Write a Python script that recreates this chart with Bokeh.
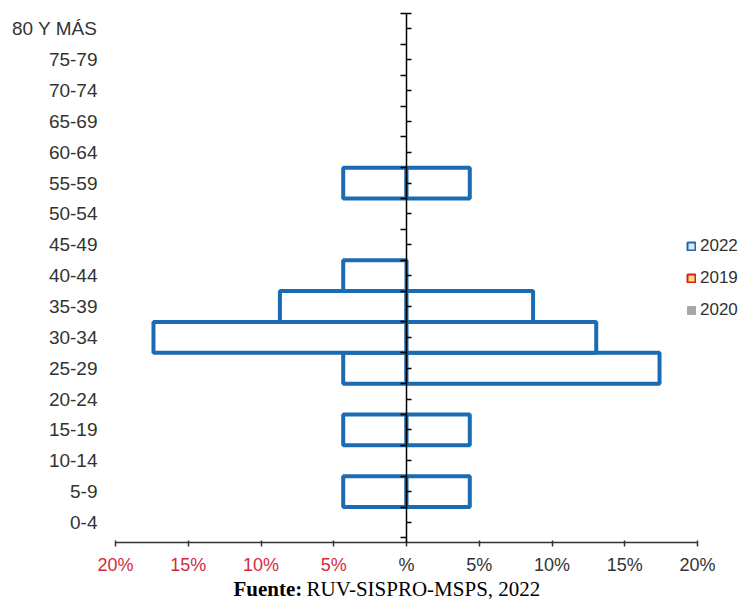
from bokeh.plotting import figure
from bokeh.models import (Range1d, FixedTicker, ColumnDataSource, Legend, LegendItem,
                          LinearAxis, Label)
from bokeh.embed import file_html
from bokeh.resources import INLINE

# ---- data ----
categories = ["0-4", "5-9", "10-14", "15-19", "20-24", "25-29", "30-34", "35-39",
              "40-44", "45-49", "50-54", "55-59", "60-64", "65-69", "70-74", "75-79",
              "80 Y MÁS"]
left_pct = [0, 4.35, 0, 4.35, 0, 4.35, 17.39, 8.70, 4.35, 0, 0, 4.35, 0, 0, 0, 0, 0]
right_pct = [0, 4.35, 0, 4.35, 0, 17.39, 13.04, 8.70, 0, 0, 0, 4.35, 0, 0, 0, 0, 0]
legend_years = ["2022", "2019", "2020"]
x_ticks = [-20, -15, -10, -5, 0, 5, 10, 15, 20]
x_tick_labels = ["20%", "15%", "10%", "5%", "%", "5%", "10%", "15%", "20%"]
source_text_bold = "Fuente:"
source_text = "RUV-SISPRO-MSPS, 2022"

BLUE = "#1b6bb3"
RED = "#d42b3a"
DARK = "#333333"
FONT = "Liberation Sans"
SERIF = "Liberation Serif"

W, H = 747, 599
n = len(categories)
ypos = list(range(n))
y_axis_at, y_top = -0.65, n - 0.5             # vertical extent of the chart axes
py_per_unit = 529 / (y_top - y_axis_at)       # chart area 13..542 px
y_start = y_axis_at - (H - 542) / py_per_unit
y_end = y_top + 13 / py_per_unit
x_min, x_max = x_ticks[0], x_ticks[-1]
px_per_unit = 582 / (x_max - x_min)           # 115..697 px holds -20..20
x_start = x_min - 115 / px_per_unit
x_end = x_max + (W - 697) / px_per_unit

p = figure(width=W, height=H, output_backend="svg", toolbar_location=None,
           x_range=Range1d(x_start, x_end), y_range=Range1d(y_start, y_end),
           x_axis_type=None, y_axis_type=None, min_border=0)
p.outline_line_color = None
p.xgrid.grid_line_color = None
p.ygrid.grid_line_color = None
p.background_fill_color = "white"
p.border_fill_color = "white"

# bars (only non-zero values)
lsrc = ColumnDataSource(dict(
    y=[ypos[i] for i in range(n) if left_pct[i] > 0],
    left=[-left_pct[i] for i in range(n) if left_pct[i] > 0],
    right=[0 for i in range(n) if left_pct[i] > 0]))
rsrc = ColumnDataSource(dict(
    y=[ypos[i] for i in range(n) if right_pct[i] > 0],
    left=[0 for i in range(n) if right_pct[i] > 0],
    right=[right_pct[i] for i in range(n) if right_pct[i] > 0]))
p.hbar(y="y", left="left", right="right", height=1.0, source=lsrc,
       fill_color="white", line_color=BLUE, line_width=4)
p.hbar(y="y", left="left", right="right", height=1.0, source=rsrc,
       fill_color="white", line_color=BLUE, line_width=4)

# category axis (labels only), at the left end of the x axis
yax = LinearAxis(fixed_location=x_min, ticker=FixedTicker(ticks=ypos),
                 major_label_overrides={i: c for i, c in zip(ypos, categories)},
                 axis_line_color=None, major_tick_line_color=None,
                 minor_tick_line_color=None, major_tick_in=0, major_tick_out=0,
                 major_label_standoff=18, major_label_text_font=FONT,
                 major_label_text_font_size="19px", major_label_text_color=DARK)
p.add_layout(yax, "left")

# central vertical axis at x = 0
bounds = [i - 0.5 for i in range(n + 1)]
cax = LinearAxis(fixed_location=0, bounds=(y_axis_at, y_top),
                 ticker=FixedTicker(ticks=ypos + [y_top], minor_ticks=bounds),
                 major_label_text_alpha=0, major_label_text_font_size="1px",
                 axis_line_color="black", axis_line_width=1.5,
                 major_tick_line_color="black", major_tick_line_width=1.3,
                 major_tick_in=5, major_tick_out=0,
                 minor_tick_line_color="black", minor_tick_line_width=1.3,
                 minor_tick_in=0, minor_tick_out=6)
p.add_layout(cax, "left")

# x axis (line, ticks, black labels on the right side)
xax = LinearAxis(fixed_location=y_axis_at, bounds=(x_min, x_max),
                 ticker=FixedTicker(ticks=x_ticks),
                 major_label_overrides={t: (lab if t >= 0 else "") for t, lab in zip(x_ticks, x_tick_labels)},
                 axis_line_color=DARK, axis_line_width=1.5,
                 major_tick_line_color=DARK, major_tick_line_width=1.5,
                 major_tick_in=2, major_tick_out=4, minor_tick_line_color=None,
                 major_label_standoff=8, major_label_text_font=FONT,
                 major_label_text_font_size="18px", major_label_text_color=DARK)
p.add_layout(xax, "below")

# x axis labels (red, left side)
neg_ticks = [t for t in x_ticks if t < 0]
rax = LinearAxis(fixed_location=y_axis_at, ticker=FixedTicker(ticks=neg_ticks),
                 major_label_overrides={t: lab for t, lab in zip(x_ticks, x_tick_labels) if t < 0},
                 axis_line_color=None, major_tick_line_color=None,
                 minor_tick_line_color=None, major_tick_in=2, major_tick_out=4,
                 major_label_standoff=8, major_label_text_font=FONT,
                 major_label_text_font_size="18px", major_label_text_color=RED)
p.add_layout(rax, "below")

# source caption
p.add_layout(Label(x=233, y=11, x_units="screen", y_units="screen", text=source_text_bold,
                   text_font=SERIF, text_font_style="bold", text_font_size="21px",
                   text_color="black", text_baseline="middle"))
p.add_layout(Label(x=306, y=11, x_units="screen", y_units="screen", text=source_text,
                   text_font=SERIF, text_font_size="21px",
                   text_color="black", text_baseline="middle"))

# legend (renderers hold one NaN row so their legend swatches are drawn)
nan = float("nan")
def swatch(**kw):
    src = ColumnDataSource(dict(l=[nan], r=[nan], t=[nan], b=[nan]))
    return p.quad(left="l", right="r", top="t", bottom="b", source=src, **kw)
r1 = swatch(fill_color="#dce9f5", line_color=BLUE, line_width=2)
r2 = swatch(fill_color="#f5e27a", line_color="#e01b1b", line_width=2)
r3 = swatch(fill_color="#a6a6a6", line_color="#a6a6a6", line_width=1)
legend = Legend(items=[LegendItem(label=legend_years[0], renderers=[r1]),
                       LegendItem(label=legend_years[1], renderers=[r2]),
                       LegendItem(label=legend_years[2], renderers=[r3])],
                location=(686, 279), padding=0, margin=0, spacing=12,
                glyph_width=10, glyph_height=10, label_standoff=4, label_height=20,
                label_text_font=FONT, label_text_font_size="17px", label_text_color=DARK,
                border_line_color=None, background_fill_alpha=0)
p.add_layout(legend)

open("out.html", "w").write(file_html(p, INLINE))
